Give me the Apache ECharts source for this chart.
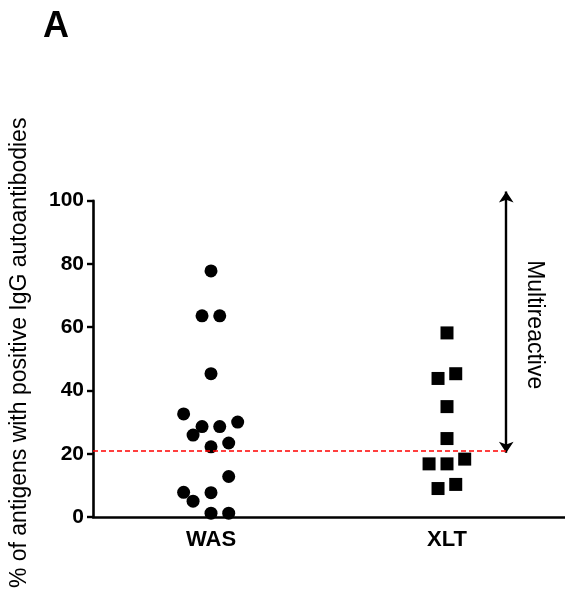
<!DOCTYPE html>
<html>
<head>
<meta charset="utf-8">
<script src="https://cdn.jsdelivr.net/npm/echarts@6/dist/echarts.min.js"></script>
<style>
html,body{margin:0;padding:0;background:#fff;}
#c{width:565px;height:598px;}
</style>
</head>
<body>
<div id="c"></div>
<script>
var categories = ['WAS', 'XLT'];
var yTicks = [0, 20, 40, 60, 80, 100];
// WAS points: x position (category index + jitter), y value
var wasX = [0, -0.038, 0.037, 0, -0.116, -0.038, 0.037, 0.113, -0.076, 0, 0.075, 0.075, -0.116, 0, -0.076, 0, 0.075];
var wasY = [77.8, 63.6, 63.6, 45.3, 32.6, 28.6, 28.6, 30.0, 25.9, 22.2, 23.4, 12.8, 7.8, 7.7, 5.0, 1.2, 1.2];
// XLT points
var xltX = [1.0, 0.962, 1.037, 1.0, 1.0, 0.924, 1.0, 1.075, 0.962, 1.037];
var xltY = [58.2, 43.8, 45.3, 34.9, 24.8, 16.8, 16.8, 18.3, 9.0, 10.3];
var threshold = 20.8;
var thresholdEndX = 1.256;
var arrowX = 1.251;
var arrowBottom = 20.3;
var arrowTop = 102.9;
var labelPos = [1.37, 60.8];

function pairs(xs, ys) { return xs.map(function (x, i) { return [x, ys[i]]; }); }

var font = 'Arial, "Liberation Sans", sans-serif';
var chart = echarts.init(document.getElementById('c'));
chart.setOption({
  animation: false,
  title: {
    text: 'A', left: 38, top: 4,
    textStyle: { fontSize: 36, fontWeight: 'bold', color: '#000', fontFamily: font }
  },
  grid: { left: 92, right: -3, top: 200.7, bottom: 81, containLabel: false },
  xAxis: [{
    type: 'category', data: categories, boundaryGap: true,
    axisLine: { lineStyle: { color: '#000', width: 2.6 } },
    axisTick: { alignWithLabel: true, length: 6, lineStyle: { color: '#000', width: 2.4 } },
    axisLabel: { color: '#000', fontSize: 22, fontWeight: 'bold', fontFamily: font, margin: 12 },
    splitLine: { show: false }
  }, {
    type: 'value', min: -0.5, max: 1.5, show: false
  }],
  yAxis: {
    type: 'value', min: 0, max: 100, interval: 20,
    name: '% of antigens with positive IgG autoantibodies',
    nameLocation: 'middle', nameRotate: 90, nameGap: 62,
    nameTextStyle: { fontSize: 23, color: '#000', fontFamily: font, padding: [0, 0, 0, 12] },
    axisLine: { show: true, onZero: false, lineStyle: { color: '#000', width: 2.6 } },
    axisTick: { show: true, length: 6, lineStyle: { color: '#000', width: 2.4 } },
    axisLabel: { color: '#000', fontSize: 21, fontWeight: 'bold', fontFamily: font, margin: 9,
      formatter: function (v) { return yTicks.indexOf(v) >= 0 ? String(v) : ''; } },
    splitLine: { show: false }
  },
  series: [{
    type: 'scatter', xAxisIndex: 1, symbol: 'circle', symbolSize: 13,
    itemStyle: { color: '#000', opacity: 1 }, data: pairs(wasX, wasY), clip: false,
    markLine: {
      silent: true, symbol: ['none', 'none'], animation: false,
      lineStyle: { color: '#ff0000', type: [5, 3], width: 1.6, opacity: 1 },
      label: { show: false },
      data: [[{ coord: [-0.5, threshold] }, { coord: [thresholdEndX, threshold] }]]
    }
  }, {
    type: 'scatter', xAxisIndex: 1, symbol: 'rect', symbolSize: 13,
    itemStyle: { color: '#000', opacity: 1 }, data: pairs(xltX, xltY), clip: false
  }, {
    type: 'lines', coordinateSystem: 'cartesian2d', xAxisIndex: 1, clip: false, silent: true,
    symbol: ['arrow', 'arrow'], symbolSize: 11,
    lineStyle: { color: '#000', width: 2.4, opacity: 1, curveness: 0 },
    data: [{ coords: [[arrowX, arrowBottom], [arrowX, arrowTop]] }]
  }, {
    type: 'scatter', xAxisIndex: 1, symbolSize: 0, silent: true, clip: false,
    itemStyle: { opacity: 1 },
    data: [labelPos],
    label: { show: true, position: 'inside', formatter: 'Multireactive', rotate: -90,
      fontSize: 23, color: '#000', opacity: 1, fontFamily: font, align: 'center', verticalAlign: 'middle' }
  }]
});
</script>
</body>
</html>
